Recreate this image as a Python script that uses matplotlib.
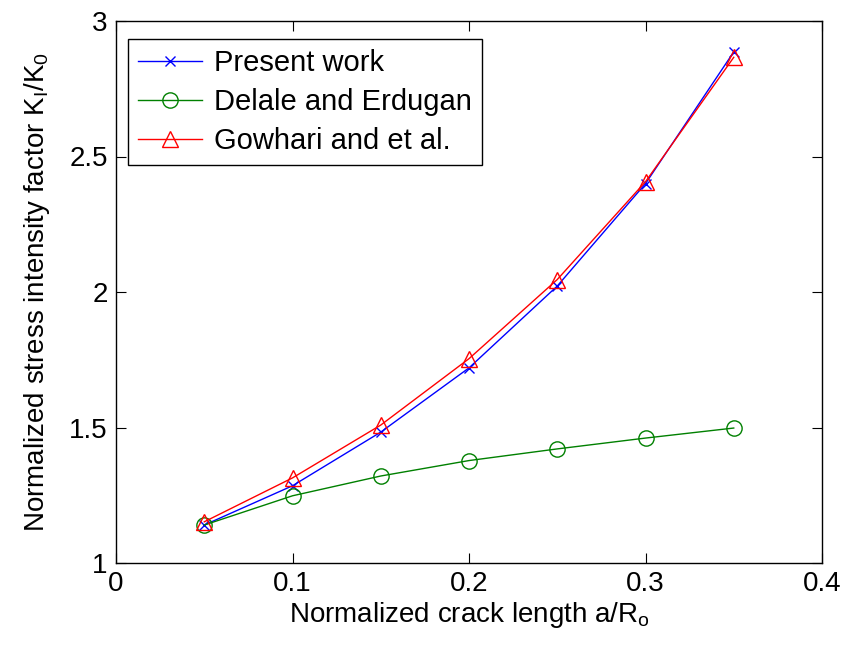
import matplotlib
matplotlib.use("Agg")
import matplotlib.pyplot as plt
from matplotlib.ticker import FuncFormatter

plt.rcParams["font.family"] = ["Liberation Sans", "DejaVu Sans"]
plt.rcParams["mathtext.fontset"] = "custom"
plt.rcParams["mathtext.rm"] = "Liberation Sans"
plt.rcParams["mathtext.it"] = "Liberation Sans"

crack_length = [0.05, 0.10, 0.15, 0.20, 0.25, 0.30, 0.35]
present_work = [1.14, 1.285, 1.483, 1.72, 2.022, 2.40, 2.886]
delale_erdugan = [1.14, 1.248, 1.321, 1.378, 1.421, 1.461, 1.498]
gowhari = [1.152, 1.314, 1.509, 1.754, 2.046, 2.407, 2.866]

fig = plt.figure(figsize=(8.42, 6.46), dpi=100)
ax = fig.add_axes([116 / 842, 1 - 563 / 646, (822 - 116) / 842, (563 - 21) / 646])

ax.plot(crack_length, present_work, color="blue", marker="x", markersize=7,
        markeredgewidth=1, linewidth=1, label="Present work")
ax.plot(crack_length, delale_erdugan, color=(0, 0.5, 0), marker="o", markersize=11,
        markerfacecolor="none", markeredgewidth=1, linewidth=1, label="Delale and Erdugan")
ax.plot(crack_length, gowhari, color="red", marker="^", markersize=12,
        markerfacecolor="none", markeredgewidth=1, linewidth=1, label="Gowhari and et al.")

ax.set_xlim(0, 0.4)
ax.set_ylim(1, 3)
ax.set_xticks([0, 0.1, 0.2, 0.3, 0.4])
ax.set_yticks([1, 1.5, 2, 2.5, 3])
fmt = FuncFormatter(lambda v, p: f"{v:g}")
ax.xaxis.set_major_formatter(fmt)
ax.yaxis.set_major_formatter(fmt)
ax.tick_params(direction="in", length=7, width=0.8, top=True, right=True,
               labelsize=20, pad=6)
for s in ax.spines.values():
    s.set_linewidth(1)

ax.set_xlabel(r"Normalized crack length a/R$_\mathrm{o}$", fontsize=20, labelpad=2)
ax.set_ylabel(r"Normalized stress intensity factor K$_\mathrm{I}$/K$_\mathrm{0}$",
              fontsize=20, labelpad=12)

leg = ax.legend(loc="upper left", bbox_to_anchor=(0.017, 0.967), fontsize=21,
                frameon=True, fancybox=False, edgecolor="black", framealpha=1,
                borderpad=0.35, labelspacing=0.38, handlelength=2.2,
                handletextpad=0.4, borderaxespad=0)
leg.get_frame().set_linewidth(1)

fig.savefig("out.png", dpi=100)
